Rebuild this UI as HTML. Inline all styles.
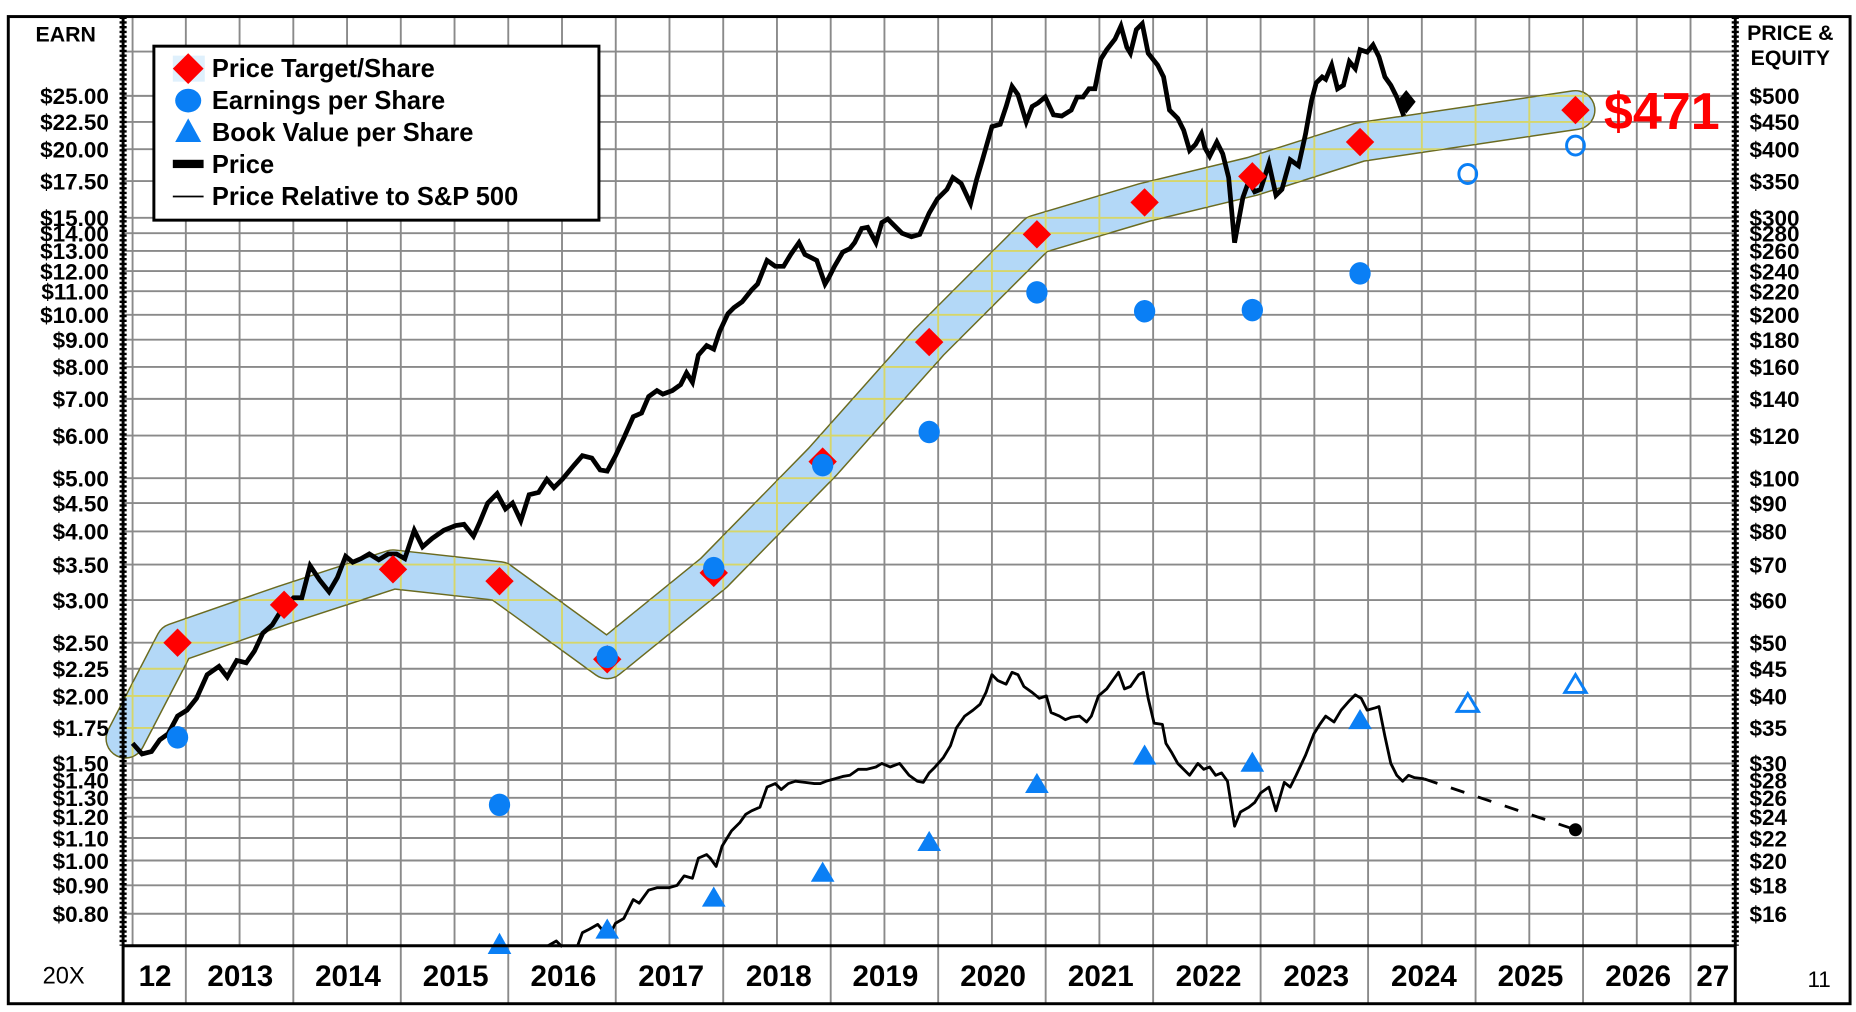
<!DOCTYPE html>
<html><head><meta charset="utf-8"><style>
html,body{margin:0;padding:0;background:#fff;width:1856px;height:1012px;overflow:hidden}
svg{display:block}
text{font-family:"Liberation Sans",Arial,sans-serif;font-weight:bold;fill:#000}
</style></head><body>
<svg width="1856" height="1012" viewBox="0 0 1568 855" preserveAspectRatio="none" xmlns="http://www.w3.org/2000/svg">
<defs>
<g id="grid" stroke-width="1.6">
<line x1="104" x2="1466" y1="43.6" y2="43.6"/>
<line x1="104" x2="1466" y1="81" y2="81"/><line x1="104" x2="1466" y1="103" y2="103"/><line x1="104" x2="1466" y1="126" y2="126"/><line x1="104" x2="1466" y1="153" y2="153"/><line x1="104" x2="1466" y1="184" y2="184"/><line x1="104" x2="1466" y1="197" y2="197"/><line x1="104" x2="1466" y1="212" y2="212"/><line x1="104" x2="1466" y1="229" y2="229"/><line x1="104" x2="1466" y1="246" y2="246"/><line x1="104" x2="1466" y1="266" y2="266"/><line x1="104" x2="1466" y1="287" y2="287"/><line x1="104" x2="1466" y1="310" y2="310"/><line x1="104" x2="1466" y1="337" y2="337"/><line x1="104" x2="1466" y1="368" y2="368"/><line x1="104" x2="1466" y1="404" y2="404"/><line x1="104" x2="1466" y1="425" y2="425"/><line x1="104" x2="1466" y1="449" y2="449"/><line x1="104" x2="1466" y1="477" y2="477"/><line x1="104" x2="1466" y1="507" y2="507"/><line x1="104" x2="1466" y1="543" y2="543"/><line x1="104" x2="1466" y1="565" y2="565"/><line x1="104" x2="1466" y1="588" y2="588"/><line x1="104" x2="1466" y1="615" y2="615"/><line x1="104" x2="1466" y1="645" y2="645"/><line x1="104" x2="1466" y1="659" y2="659"/><line x1="104" x2="1466" y1="674" y2="674"/><line x1="104" x2="1466" y1="690" y2="690"/><line x1="104" x2="1466" y1="708" y2="708"/><line x1="104" x2="1466" y1="727" y2="727"/><line x1="104" x2="1466" y1="748" y2="748"/><line x1="104" x2="1466" y1="772" y2="772"/>
<line x1="112" x2="112" y1="13" y2="799"/>
<line x1="157" x2="157" y1="13" y2="848"/><line x1="202.4" x2="202.4" y1="13" y2="799"/>
<line x1="247.8" x2="247.8" y1="13" y2="848"/><line x1="293.2" x2="293.2" y1="13" y2="799"/>
<line x1="338.6" x2="338.6" y1="13" y2="848"/><line x1="384" x2="384" y1="13" y2="799"/>
<line x1="429.4" x2="429.4" y1="13" y2="848"/><line x1="474.8" x2="474.8" y1="13" y2="799"/>
<line x1="520.2" x2="520.2" y1="13" y2="848"/><line x1="565.6" x2="565.6" y1="13" y2="799"/>
<line x1="611" x2="611" y1="13" y2="848"/><line x1="656.4" x2="656.4" y1="13" y2="799"/>
<line x1="701.8" x2="701.8" y1="13" y2="848"/><line x1="747.2" x2="747.2" y1="13" y2="799"/>
<line x1="792.6" x2="792.6" y1="13" y2="848"/><line x1="838" x2="838" y1="13" y2="799"/>
<line x1="883.4" x2="883.4" y1="13" y2="848"/><line x1="928.8" x2="928.8" y1="13" y2="799"/>
<line x1="974.2" x2="974.2" y1="13" y2="848"/><line x1="1019.6" x2="1019.6" y1="13" y2="799"/>
<line x1="1065" x2="1065" y1="13" y2="848"/><line x1="1110.4" x2="1110.4" y1="13" y2="799"/>
<line x1="1155.8" x2="1155.8" y1="13" y2="848"/><line x1="1201.2" x2="1201.2" y1="13" y2="799"/>
<line x1="1246.6" x2="1246.6" y1="13" y2="848"/><line x1="1292" x2="1292" y1="13" y2="799"/>
<line x1="1337.4" x2="1337.4" y1="13" y2="848"/><line x1="1382.8" x2="1382.8" y1="13" y2="799"/>
<line x1="1428.2" x2="1428.2" y1="13" y2="848"/>
</g>
<polyline id="bandp" points="106,624 148,543 240,511 332,481 422,491 513,557 603,484 695,390 785,289 876,198 967,171 1058,149 1149,120 1331,93" fill="none" stroke-linejoin="round" stroke-linecap="round"/>
<mask id="bm"><rect width="1568" height="855" fill="#000"/><use href="#bandp" stroke="#fff" stroke-width="32"/></mask>
</defs>
<rect width="1568" height="855" fill="#fff"/>
<use href="#grid" stroke="#8a8a8a"/>
<!-- band -->
<use href="#bandp" stroke="#6b6b20" stroke-width="34"/>
<use href="#bandp" stroke="#b3d8f7" stroke-width="31.5"/>
<g mask="url(#bm)"><use href="#grid" stroke="#d6d66a" stroke-width="1.2"/></g>
<!-- relative line -->
<polyline fill="none" stroke="#000" stroke-width="2.4" stroke-linejoin="round" points="463,799 470,795 475,800 M487,800"/>
<polyline fill="none" stroke="#000" stroke-width="2.4" stroke-linejoin="round" points="488,799 492,788 498,785 505,781 510,787 515,790 520,780 527,776 535,760 540,763 548,752 555,750 565,750 572,748 578,740 585,742 590,725 597,722 600,725 605,732 610,715 618,702 625,695 630,688 635,685 642,682 648,665 655,662 660,667 666,662 672,660 680,661 688,662 693,662 698,660 705,658 712,656 718,655 725,650 732,650 740,648 745,645 752,648 760,645 768,655 775,660 780,661 785,653 790,648 797,640 803,630 808,615 815,605 822,600 828,595 833,585 838,570 843,575 850,578 855,568 860,570 865,580 872,585 878,590 884,588 888,602 895,605 900,608 905,606 912,605 918,610 922,605 928,588 935,582 940,575 945,568 950,582 955,580 962,570 966,568 970,590 975,611 982,612 985,628 990,636 995,645 1000,650 1005,655 1012,645 1017,650 1022,648 1027,655 1032,653 1037,660 1043,698 1048,686 1055,682 1060,678 1065,670 1072,665 1078,685 1085,661 1090,665 1095,655 1103,638 1110,620 1115,612 1120,605 1127,610 1133,600 1140,592 1145,587 1150,590 1155,600 1162,598 1165,597 1170,622 1175,645 1180,655 1185,660 1190,655 1195,657 1203,658"/>
<line x1="1203" y1="658" x2="1331" y2="701" stroke="#000" stroke-width="2.4" stroke-dasharray="12,12"/>
<circle cx="1331" cy="701" r="5.5" fill="#000"/>
<!-- price line -->
<polyline fill="none" stroke="#000" stroke-width="4" stroke-linejoin="miter" points="112,628 120,637 128,635 135,625 142,620 150,605 158,600 166,590 175,570 185,563 192,572 200,558 208,560 215,550 222,535 230,528 238,515 248,505 255,505 262,478 270,490 278,500 285,488 292,470 298,475 305,472 312,468 320,473 328,468 335,468 342,472 350,448 357,462 365,455 375,448 385,444 392,443 400,453 405,442 412,425 420,417 427,430 433,425 440,440 447,418 455,416 462,405 468,412 475,405 485,393 492,385 500,387 507,397 513,398 520,385 527,370 535,352 542,349 548,335 555,330 560,333 568,330 575,325 580,315 585,323 590,300 597,292 603,295 608,280 615,265 620,260 627,255 635,245 640,240 648,220 655,225 662,225 668,215 675,205 680,215 690,220 697,240 700,235 705,225 712,213 718,210 722,205 728,193 733,192 740,205 745,188 750,185 755,190 762,197 770,200 777,198 785,180 792,168 800,160 805,150 812,155 820,172 825,152 830,135 838,107 845,105 850,90 855,73 860,80 867,103 872,90 877,87 883,82 890,97 897,98 905,93 910,82 915,82 920,75 925,75 930,50 935,42 942,33 947,22 952,40 955,45 960,25 965,20 970,45 978,55 983,65 988,93 995,100 1000,110 1005,127 1010,122 1015,113 1018,125 1022,132 1028,120 1033,130 1038,150 1043,205 1050,167 1055,153 1060,162 1065,160 1072,138 1078,165 1083,160 1090,135 1097,140 1103,113 1108,85 1112,70 1117,65 1120,67 1125,55 1130,75 1135,72 1140,52 1145,58 1149,42 1155,44 1160,38 1165,48 1170,65 1175,72 1180,82 1186,98"/>
<polygon points="1188,76 1196,86 1188,96 1180,86" fill="#000"/>
<!-- diamonds -->
<g fill="#ff0000">
<polygon points="150,531 162,543 150,555 138,543"/>
<polygon points="240,499 252,511 240,523 228,511"/>
<polygon points="332,469 344,481 332,493 320,481"/>
<polygon points="422,479 434,491 422,503 410,491"/>
<polygon points="513,545 525,557 513,569 501,557"/>
<polygon points="603,472 615,484 603,496 591,484"/>
<polygon points="695,378 707,390 695,402 683,390"/>
<polygon points="785,277 797,289 785,301 773,289"/>
<polygon points="876,186 888,198 876,210 864,198"/>
<polygon points="967,159 979,171 967,183 955,171"/>
<polygon points="1058,137 1070,149 1058,161 1046,149"/>
<polygon points="1149,108 1161,120 1149,132 1137,120"/>
<polygon points="1331,81 1343,93 1331,105 1319,93"/>
</g>
<!-- EPS -->
<g fill="#0a7ff5">
<ellipse cx="150" cy="623" rx="9" ry="9.5"/><ellipse cx="422" cy="680" rx="9" ry="9.5"/><ellipse cx="513" cy="555" rx="9" ry="9.5"/><ellipse cx="603" cy="480" rx="9" ry="9.5"/><ellipse cx="695" cy="393" rx="9" ry="9.5"/><ellipse cx="785" cy="365" rx="9" ry="9.5"/><ellipse cx="876" cy="247" rx="9" ry="9.5"/><ellipse cx="967" cy="263" rx="9" ry="9.5"/><ellipse cx="1058" cy="262" rx="9" ry="9.5"/><ellipse cx="1149" cy="231" rx="9" ry="9.5"/>
</g>
<g fill="none" stroke="#0a7ff5" stroke-width="2.5">
<ellipse cx="1240" cy="147" rx="7.5" ry="8"/><ellipse cx="1331" cy="123" rx="7.5" ry="8"/>
</g>
<!-- BVPS -->
<g fill="#0a7ff5">
<polygon points="422,788 432,806 412,806"/>
<polygon points="513,776 523,793 503,793"/><polygon points="603,749 613,766 593,766"/><polygon points="695,728 705,745 685,745"/><polygon points="785,702 795,719 775,719"/><polygon points="876,653 886,670 866,670"/><polygon points="967,629 977,646 957,646"/><polygon points="1058,635 1068,652 1048,652"/><polygon points="1149,599 1159,616 1139,616"/>
</g>
<g fill="none" stroke="#0a7ff5" stroke-width="2.5">
<polygon points="1240,586 1249,601 1231,601"/><polygon points="1331,570 1340,585 1322,585"/>
</g>
<!-- frame -->
<rect x="0" y="799" width="1568" height="56" fill="none"/>
<rect x="7" y="14" width="1556" height="834" fill="none" stroke="#000" stroke-width="2.5"/>
<line x1="104" y1="799" x2="1466" y2="799" stroke="#000" stroke-width="2.5"/>
<line x1="104" y1="14" x2="104" y2="848" stroke="#000" stroke-width="2.5"/>
<line x1="1466" y1="14" x2="1466" y2="848" stroke="#000" stroke-width="2.5"/>
<line x1="104" y1="14" x2="104" y2="799" stroke="#000" stroke-width="6" stroke-dasharray="2,2"/>
<line x1="1466" y1="14" x2="1466" y2="799" stroke="#000" stroke-width="6" stroke-dasharray="2,2"/>
<!-- legend -->
<rect x="130" y="39" width="376" height="147" fill="#fff" stroke="#000" stroke-width="2.5"/>
<rect x="146" y="47" width="27" height="22" fill="#dff0fc"/>
<polygon points="159,45 172,58 159,71 146,58" fill="#ff0000"/>
<ellipse cx="159" cy="85" rx="11" ry="10" fill="#0a7ff5"/>
<polygon points="159,100 170,120 148,120" fill="#0a7ff5"/>
<rect x="146" y="135" width="26" height="7" fill="#000"/>
<line x1="146" y1="166" x2="172" y2="166" stroke="#000" stroke-width="1.5"/>
<g font-size="21.5">
<text x="179" y="65">Price Target/Share</text>
<text x="179" y="92">Earnings per Share</text>
<text x="179" y="119">Book Value per Share</text>
<text x="179" y="146">Price</text>
<text x="179" y="173">Price Relative to S&amp;P 500</text>
</g>
<text x="1355" y="109" font-size="44" fill="#ff0000" style="fill:#ff0000">$471</text>
<text x="30" y="35" font-size="18">EARN</text>
<text x="1476" y="34" font-size="18">PRICE &amp;</text>
<text x="1479" y="55" font-size="18">EQUITY</text>
<text x="36" y="831" font-size="20" style="font-weight:normal">20X</text>
<text x="1527" y="834" font-size="19" style="font-weight:normal">11</text>
<g font-size="19" text-anchor="end">
<text x="92" y="88">$25.00</text><text x="92" y="110">$22.50</text><text x="92" y="133">$20.00</text><text x="92" y="160">$17.50</text><text x="92" y="191">$15.00</text><text x="92" y="204">$14.00</text><text x="92" y="219">$13.00</text><text x="92" y="236">$12.00</text><text x="92" y="253">$11.00</text><text x="92" y="273">$10.00</text><text x="92" y="294">$9.00</text><text x="92" y="317">$8.00</text><text x="92" y="344">$7.00</text><text x="92" y="375">$6.00</text><text x="92" y="411">$5.00</text><text x="92" y="432">$4.50</text><text x="92" y="456">$4.00</text><text x="92" y="484">$3.50</text><text x="92" y="514">$3.00</text><text x="92" y="550">$2.50</text><text x="92" y="572">$2.25</text><text x="92" y="595">$2.00</text><text x="92" y="622">$1.75</text><text x="92" y="652">$1.50</text><text x="92" y="666">$1.40</text><text x="92" y="681">$1.30</text><text x="92" y="697">$1.20</text><text x="92" y="715">$1.10</text><text x="92" y="734">$1.00</text><text x="92" y="755">$0.90</text><text x="92" y="779">$0.80</text>
</g>
<g font-size="19">
<text x="1478" y="88">$500</text><text x="1478" y="110">$450</text><text x="1478" y="133">$400</text><text x="1478" y="160">$350</text><text x="1478" y="191">$300</text><text x="1478" y="204">$280</text><text x="1478" y="219">$260</text><text x="1478" y="236">$240</text><text x="1478" y="253">$220</text><text x="1478" y="273">$200</text><text x="1478" y="294">$180</text><text x="1478" y="317">$160</text><text x="1478" y="344">$140</text><text x="1478" y="375">$120</text><text x="1478" y="411">$100</text><text x="1478" y="432">$90</text><text x="1478" y="456">$80</text><text x="1478" y="484">$70</text><text x="1478" y="514">$60</text><text x="1478" y="550">$50</text><text x="1478" y="572">$45</text><text x="1478" y="595">$40</text><text x="1478" y="622">$35</text><text x="1478" y="652">$30</text><text x="1478" y="666">$28</text><text x="1478" y="681">$26</text><text x="1478" y="697">$24</text><text x="1478" y="715">$22</text><text x="1478" y="734">$20</text><text x="1478" y="755">$18</text><text x="1478" y="779">$16</text>
</g>
<g font-size="25" text-anchor="middle">
<text x="131" y="833">12</text><text x="203" y="833">2013</text><text x="294" y="833">2014</text><text x="385" y="833">2015</text><text x="476" y="833">2016</text><text x="567" y="833">2017</text><text x="658" y="833">2018</text><text x="748" y="833">2019</text><text x="839" y="833">2020</text><text x="930" y="833">2021</text><text x="1021" y="833">2022</text><text x="1112" y="833">2023</text><text x="1203" y="833">2024</text><text x="1293" y="833">2025</text><text x="1384" y="833">2026</text><text x="1447" y="833">27</text>
</g>
</svg>
</body></html>
